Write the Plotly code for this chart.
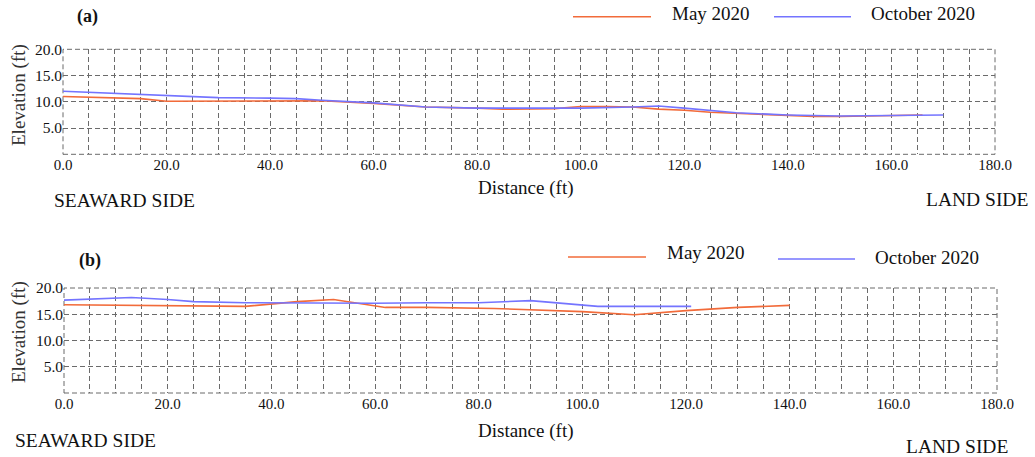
import plotly.graph_objects as go

# ---------------- data ----------------
a_may_x = [0, 10, 15, 20, 30, 40, 50, 60, 70, 80, 85, 95, 100, 105, 110, 115, 120, 125, 130, 140, 145, 150, 160, 166]
a_may_y = [11.0, 10.8, 10.6, 10.1, 10.1, 10.2, 10.2, 9.7, 9.0, 8.8, 8.6, 8.7, 9.1, 9.1, 9.0, 8.6, 8.4, 8.0, 7.8, 7.5, 7.2, 7.2, 7.3, 7.5]
a_oct_x = [0, 10, 20, 30, 40, 45, 50, 55, 60, 70, 80, 90, 100, 110, 115, 120, 125, 130, 140, 145, 150, 160, 170]
a_oct_y = [12.0, 11.6, 11.1, 10.8, 10.7, 10.6, 10.3, 10.1, 9.8, 9.0, 8.8, 8.8, 8.8, 9.0, 9.2, 8.8, 8.3, 7.9, 7.5, 7.4, 7.3, 7.4, 7.5]

b_may_x = [0, 10, 20, 25, 35, 45, 52, 62, 70, 83, 90, 100, 110, 120, 130, 140]
b_may_y = [16.8, 16.7, 16.6, 16.5, 16.5, 17.4, 17.8, 16.3, 16.3, 16.1, 15.9, 15.5, 14.9, 15.7, 16.3, 16.7]
b_oct_x = [0, 13, 20, 25, 35, 50, 60, 70, 80, 90, 100, 103, 121]
b_oct_y = [17.7, 18.2, 17.8, 17.4, 17.2, 17.1, 17.1, 17.2, 17.2, 17.6, 16.7, 16.5, 16.5]

x_ticks = [0, 20, 40, 60, 80, 100, 120, 140, 160, 180]
y_ticks = [5, 10, 15, 20]
series_names = ["May 2020", "October 2020"]

# ---------------- style ----------------
W, H = 1035, 457
ORANGE = "#F26B3A"
BLUE = "#7474FF"
GRID = "#6b6b6b"
FONT = "Liberation Serif"


def px(x):
    return x / W


def py(y):
    return 1 - y / H


fig = go.Figure()

panels = [
    dict(xa="x", ya="y", may=(a_may_x, a_may_y), oct=(a_oct_x, a_oct_y),
         xdom=[px(63), px(995)], ydom=[py(154.3), py(49.3)]),
    dict(xa="x2", ya="y2", may=(b_may_x, b_may_y), oct=(b_oct_x, b_oct_y),
         xdom=[px(64), px(997)], ydom=[py(393), py(288)]),
]

for p in panels:
    fig.add_trace(go.Scatter(x=p["may"][0], y=p["may"][1], mode="lines", name=series_names[0],
                             line=dict(color=ORANGE, width=1.6), showlegend=False,
                             xaxis=p["xa"], yaxis=p["ya"]))
    fig.add_trace(go.Scatter(x=p["oct"][0], y=p["oct"][1], mode="lines", name=series_names[1],
                             line=dict(color=BLUE, width=1.6), showlegend=False,
                             xaxis=p["xa"], yaxis=p["ya"]))


def xaxis_cfg(dom, anchor):
    return dict(domain=dom, anchor=anchor, range=[0, 180], tickmode="array",
                tickvals=x_ticks, ticktext=[f"{v:.1f}" for v in x_ticks],
                showgrid=True, gridcolor=GRID, gridwidth=1, griddash="5px,3px",
                minor=dict(dtick=5, tick0=0, showgrid=True, gridcolor=GRID, gridwidth=1,
                           griddash="5px,3px"),
                zeroline=False, showline=False, ticks="", automargin=False,
                tickfont=dict(family=FONT, size=15, color="#111"))


def yaxis_cfg(dom, anchor):
    return dict(domain=dom, anchor=anchor, range=[0, 20], tickmode="array",
                tickvals=y_ticks, ticktext=[f"{v:.1f}" for v in y_ticks],
                showgrid=True, gridcolor=GRID, gridwidth=1, griddash="5px,3px",
                minor=dict(dtick=5, tick0=0, showgrid=True, gridcolor=GRID, gridwidth=1,
                           griddash="5px,3px"),
                zeroline=False, showline=False, ticks="", automargin=False,
                tickfont=dict(family=FONT, size=15.5, color="#111"))


fig.update_layout(
    width=W, height=H,
    margin=dict(l=0, r=0, t=0, b=0, autoexpand=False),
    paper_bgcolor="white", plot_bgcolor="white",
    font=dict(family=FONT, color="#111"),
    xaxis=xaxis_cfg(panels[0]["xdom"], "y"),
    yaxis=yaxis_cfg(panels[0]["ydom"], "x"),
    xaxis2=xaxis_cfg(panels[1]["xdom"], "y2"),
    yaxis2=yaxis_cfg(panels[1]["ydom"], "x2"),
)

# dashed frame edges
shapes = []
for xr, yr in [("x", "y"), ("x2", "y2")]:
    shapes.append(dict(type="rect", xref=xr + " domain", yref=yr + " domain", x0=0, x1=1, y0=0, y1=1,
                       line=dict(color=GRID, width=1, dash="5px,3px"), layer="below"))

# legend samples (paper coords)
legend_items = [
    (573, 651, 16.7, 670, 14, series_names[0], ORANGE),
    (774, 851, 16.7, 869, 14, series_names[1], BLUE),
    (568, 646, 257, 665, 253, series_names[0], ORANGE),
    (778, 855, 259, 873, 257, series_names[1], BLUE),
]
annotations = []
for x0, x1, yl, xt, yt, name, col in legend_items:
    shapes.append(dict(type="line", xref="paper", yref="paper", x0=px(x0), x1=px(x1), y0=py(yl), y1=py(yl),
                       line=dict(color=col, width=1.6)))
    annotations.append(dict(text=name, xref="paper", yref="paper", x=px(xt), y=py(yt), xanchor="left",
                            yanchor="middle", showarrow=False, font=dict(family=FONT, size=19, color="#111")))

texts = [
    ("<b>(a)</b>", 75, 16, "left", 18),
    ("<b>(b)</b>", 77, 260, "left", 18),
    ("Distance (ft)", 525, 188, "center", 19),
    ("Distance (ft)", 525, 431, "center", 19),
    ("SEAWARD SIDE", 52, 200, "left", 19.5),
    ("SEAWARD SIDE", 13, 440, "left", 19.5),
    ("LAND SIDE", 1030, 199, "right", 19.5),
    ("LAND SIDE", 1010, 446, "right", 19.5),
]
for t, x, y, anc, sz in texts:
    annotations.append(dict(text=t, xref="paper", yref="paper", x=px(x), y=py(y), xanchor=anc,
                            yanchor="middle", showarrow=False, font=dict(family=FONT, size=sz, color="#111")))

for yc in (95, 332):
    annotations.append(dict(text="Elevation (ft)", xref="paper", yref="paper", x=px(19), y=py(yc),
                            xanchor="center", yanchor="middle", textangle=-90, showarrow=False,
                            font=dict(family=FONT, size=19, color="#333")))

fig.update_layout(shapes=shapes, annotations=annotations)
fig.write_html("out.html")
